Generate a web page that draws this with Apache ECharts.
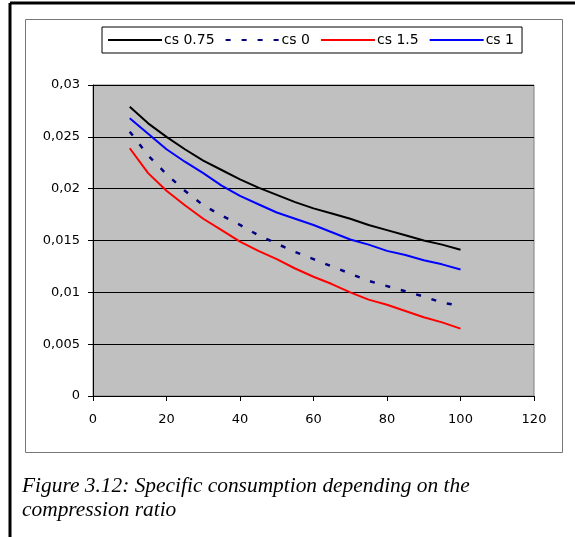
<!DOCTYPE html>
<html>
<head>
<meta charset="utf-8">
<script src="https://cdn.jsdelivr.net/npm/echarts@6/dist/echarts.min.js"></script>
<style>
  html, body { margin: 0; padding: 0; background: #fff; }
  #main { width: 575px; height: 537px; }
</style>
</head>
<body>
<div id="main"></div>
<script>
// compression ratio
var ratio = [10, 15, 20, 25, 30, 35, 40, 45, 50, 55, 60, 65, 70, 75, 80, 85, 90, 95, 100];
// specific consumption per series
var cs075 = [0.0279, 0.0263, 0.0250, 0.0238, 0.0227, 0.0218, 0.0209, 0.0201, 0.0194, 0.0187, 0.0181, 0.0176, 0.0171, 0.0165, 0.0160, 0.0155, 0.0150, 0.0146, 0.0141];
var cs0 = [0.0255, 0.0232, 0.0214, 0.0198, 0.0184, 0.0174, 0.0165, 0.0155, 0.0147, 0.0139, 0.0132, 0.0125, 0.0118, 0.0111, 0.0106, 0.0101, 0.0096, 0.0090, 0.0087];
var cs15 = [0.0239, 0.0215, 0.0198, 0.0184, 0.0171, 0.0160, 0.0149, 0.0140, 0.0132, 0.0123, 0.0115, 0.0108, 0.0100, 0.0093, 0.0088, 0.0082, 0.0076, 0.0071, 0.0065];
var cs1 = [0.0268, 0.0253, 0.0238, 0.0226, 0.0215, 0.0203, 0.0193, 0.0185, 0.0177, 0.0171, 0.0165, 0.0158, 0.0151, 0.0146, 0.0140, 0.0136, 0.0131, 0.0127, 0.0122];

var names = ["cs 0.75", "cs 0", "cs 1.5", "cs 1"];
var colors = ["#000000", "#000080", "#ff0000", "#0000ff"];
var axisFont = "'DejaVu Sans', Arial, sans-serif";

function pairs(ys) {
  return ratio.map(function (x, i) { return [x, ys[i]]; });
}

function makeSeries(name, ys, color, dashed) {
  return {
    name: name,
    type: "line",
    data: pairs(ys),
    symbol: "none",
    lineStyle: { color: color, width: dashed ? 2.5 : 2, type: dashed ? [5, 11] : "solid" },
    itemStyle: { color: color }
  };
}

var myChart = echarts.init(document.getElementById("main"));
myChart.setOption({
  animation: false,
  graphic: [
    { type: "line", shape: { x1: 10, y1: 3, x2: 575, y2: 3 }, style: { stroke: "#000", lineWidth: 3 } },
    { type: "line", shape: { x1: 10, y1: 3, x2: 10, y2: 537 }, style: { stroke: "#000", lineWidth: 3 } },
    { type: "rect", shape: { x: 25.5, y: 19.5, width: 537, height: 433 }, style: { fill: null, stroke: "#777", lineWidth: 1 }, z: -1 },
    {
      type: "text", left: 22, top: 474,
      style: {
        text: "Figure 3.12: Specific consumption depending on the\ncompression ratio",
        font: "italic 21.4px 'Liberation Serif', serif", fill: "#000", lineHeight: 24
      }
    }
  ],
  legend: {
    data: names,
    left: 102,
    top: 27,
    padding: [6, 8, 6, 5],
    itemWidth: 54,
    itemHeight: 10,
    itemGap: 10,
    itemStyle: { opacity: 0 },
    backgroundColor: "#fff",
    borderColor: "#000",
    borderWidth: 1,
    borderRadius: 0,
    textStyle: { fontFamily: axisFont, fontSize: 14, color: "#000", padding: [0, 0, 0, -3] }
  },
  grid: {
    left: 93,
    right: 41,
    top: 85,
    bottom: 141,
    show: true,
    backgroundColor: "#c0c0c0",
    borderColor: "#808080",
    borderWidth: 1
  },
  xAxis: {
    type: "value",
    min: 0,
    max: 120,
    interval: 20,
    splitLine: { show: false },
    axisLine: { lineStyle: { color: "#000", width: 1 } },
    axisTick: { length: 5, lineStyle: { color: "#000" } },
    axisLabel: { color: "#000", fontFamily: axisFont, fontSize: 13, margin: 17 }
  },
  yAxis: {
    type: "value",
    min: 0,
    max: 0.03,
    interval: 0.005,
    splitLine: { show: true, lineStyle: { color: "#000", width: 1 } },
    axisLine: { show: true, lineStyle: { color: "#000", width: 1 } },
    axisTick: { show: true, length: 5, lineStyle: { color: "#000" } },
    axisLabel: {
      color: "#000", fontFamily: axisFont, fontSize: 13, margin: 13,
      formatter: function (v) { return String(+v.toFixed(3)).replace(".", ","); }
    }
  },
  series: [
    makeSeries(names[0], cs075, colors[0], false),
    makeSeries(names[1], cs0, colors[1], true),
    makeSeries(names[2], cs15, colors[2], false),
    makeSeries(names[3], cs1, colors[3], false)
  ]
});
</script>
</body>
</html>
